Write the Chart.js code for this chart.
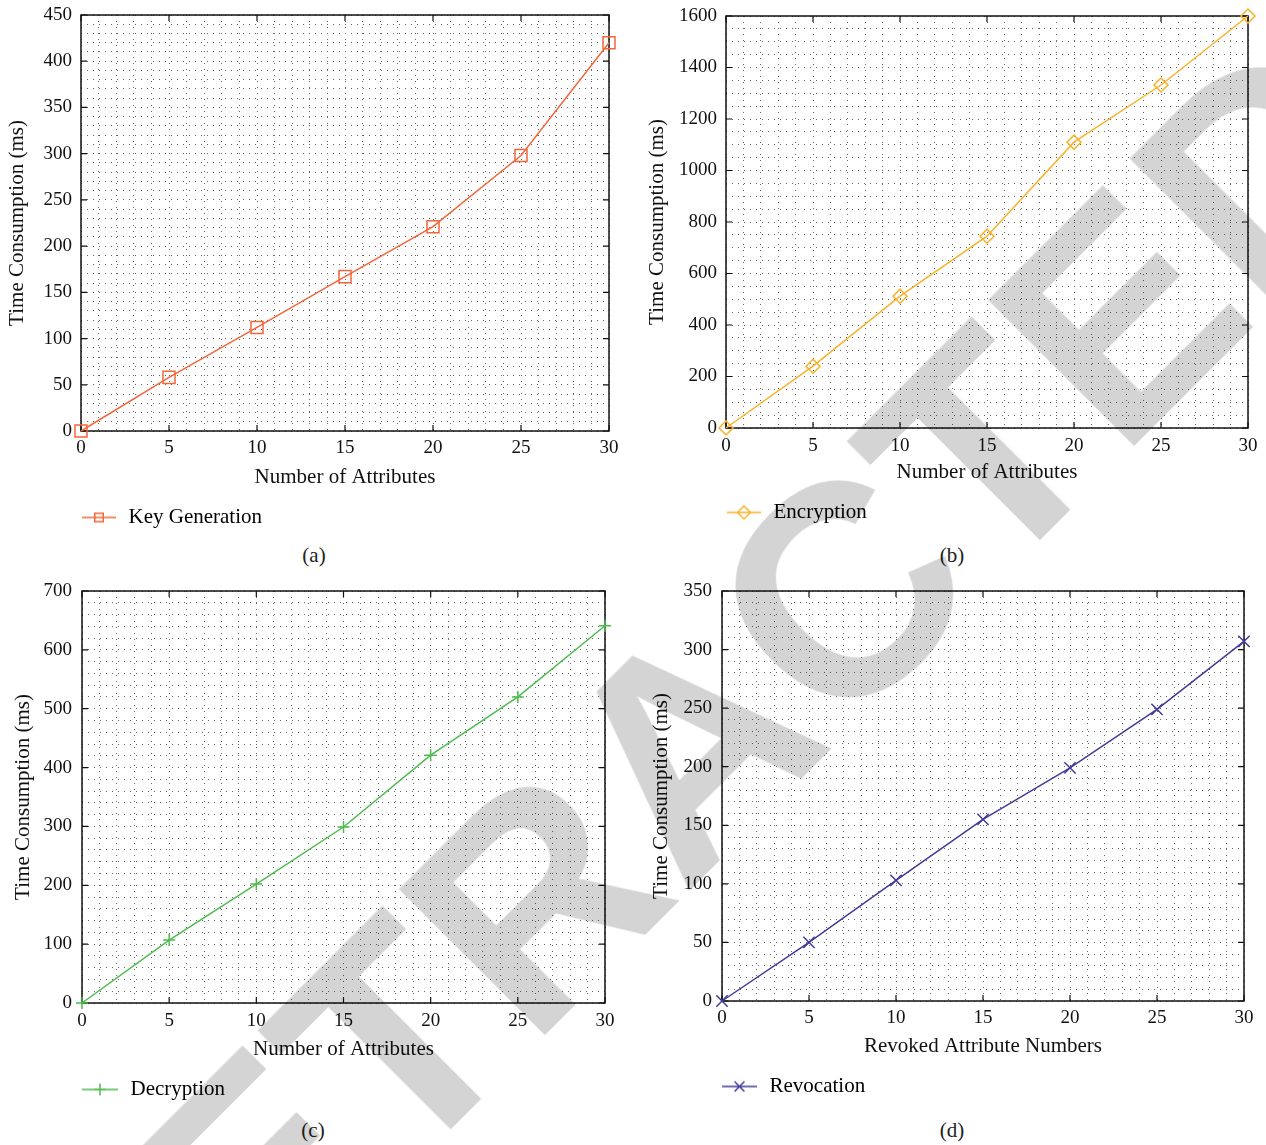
<!DOCTYPE html>
<html>
<head>
<meta charset="utf-8">
<script src="https://cdn.jsdelivr.net/npm/chart.js@4"></script>
<style>
  body { margin: 0; background: #fff; width: 1266px; height: 1145px; position: relative; overflow: hidden; font-family: "Liberation Serif", serif; }
  canvas { position: absolute; }
  .cap { position: absolute; font-size: 21px; color: #222; transform: translate(-50%, -50%); }
  #wm { position: absolute; left: 687px; top: 746px; transform: translate(-50%, -50%) rotate(-45deg);
        font: bold 300px "Liberation Sans", sans-serif; color: #d4d4d4; white-space: nowrap;
        mix-blend-mode: multiply; pointer-events: none; line-height: 1; }
</style>
</head>
<body>
<canvas id="chartA" width="633" height="538" style="left:0;top:0"></canvas>
<canvas id="chartB" width="633" height="533" style="left:633px;top:0"></canvas>
<canvas id="chartC" width="633" height="538" style="left:0;top:572px"></canvas>
<canvas id="chartD" width="633" height="535" style="left:633px;top:572px"></canvas>
<div class="cap" style="left:314px;top:555px">(a)</div>
<div class="cap" style="left:952px;top:555px">(b)</div>
<div class="cap" style="left:313px;top:1130px">(c)</div>
<div class="cap" style="left:952px;top:1130px">(d)</div>
<div id="wm">RETRACTED</div>
<script>
// values
const attributes = [0, 5, 10, 15, 20, 25, 30];
const revokedNumbers = [0, 5, 10, 15, 20, 25, 30];
const keyGeneration = [0, 58, 112, 167, 221, 298, 420];
const encryption = [0, 240, 512, 745, 1110, 1332, 1600];
const decryption = [0, 107, 202, 299, 421, 520, 641];
const revocation = [0, 50, 103, 155, 199, 249, 307];

// tick labels
const xTicks = [0, 5, 10, 15, 20, 25, 30];
const yTicksA = [0, 50, 100, 150, 200, 250, 300, 350, 400, 450];
const yTicksB = [0, 200, 400, 600, 800, 1000, 1200, 1400, 1600];
const yTicksC = [0, 100, 200, 300, 400, 500, 600, 700];
const yTicksD = [0, 50, 100, 150, 200, 250, 300, 350];

Chart.defaults.font.family = '"Liberation Serif", "DejaVu Serif", serif';
Chart.defaults.color = '#111';

const INK = '#111';

// box around the plot with inward ticks, like the original
const frame = {
  id: 'frame',
  beforeDatasetsDraw(chart, args, opts) {
    const { ctx, chartArea: a, scales: { x, y } } = chart;
    ctx.save();
    ctx.strokeStyle = INK;
    ctx.lineWidth = 1.5;
    ctx.strokeRect(a.left, a.top, a.width, a.height);
    ctx.lineWidth = 1.2;
    ctx.beginPath();
    opts.xMajor.forEach(v => {
      const px = x.getPixelForValue(v);
      ctx.moveTo(px, a.bottom); ctx.lineTo(px, a.bottom - 6);
      ctx.moveTo(px, a.top); ctx.lineTo(px, a.top + 6);
    });
    opts.yMajor.forEach(v => {
      const py = y.getPixelForValue(v);
      ctx.moveTo(a.left, py); ctx.lineTo(a.left + 6, py);
      ctx.moveTo(a.right, py); ctx.lineTo(a.right - 6, py);
    });
    ctx.stroke();
    ctx.restore();
  }
};

function legendIcon(color, style, radius, w, x1, x2) {
  const c = document.createElement('canvas');
  c.width = w; c.height = 22;
  const ctx = c.getContext('2d');
  ctx.strokeStyle = color;
  ctx.lineWidth = 1.5;
  ctx.beginPath(); ctx.moveTo(x1, 11); ctx.lineTo(x2, 11); ctx.stroke();
  ctx.fillStyle = 'rgba(0,0,0,0)';
  Chart.helpers.drawPoint(ctx, { pointStyle: style, radius: radius, rotation: 0, borderWidth: 1.5 }, (x1 + x2) / 2, 11);
  return c;
}

function makeChart(id, s) {
  const pts = s.xs.map((x, i) => ({ x: x, y: s.ys[i] }));
  const icon = legendIcon(s.color, s.style, s.legendRadius, s.boxW, s.line[0], s.line[1]);
  new Chart(document.getElementById(id), {
    type: 'line',
    data: {
      datasets: [{
        label: s.label,
        data: pts,
        borderColor: s.color,
        borderWidth: 1.5,
        tension: 0,
        clip: false,
        pointStyle: s.style,
        pointRadius: s.radius,
        pointBackgroundColor: 'rgba(0,0,0,0)',
        pointBorderColor: s.color,
        pointBorderWidth: 1.5
      }]
    },
    options: {
      responsive: false,
      animation: false,
      layout: { padding: { top: s.padTop, right: s.padRight, left: 0, bottom: 0 } },
      scales: {
        x: {
          type: 'linear', min: 0, max: 30,
          afterFit: sc => { sc.height = s.xH; sc.paddingLeft = 0; sc.paddingRight = 0; },
          ticks: {
            stepSize: 1, autoSkip: false, maxRotation: 0, padding: s.xTickPad,
            font: { size: 19 },
            callback: v => xTicks.includes(v) ? String(v) : ''
          },
          grid: { color: '#666', lineWidth: 1, drawTicks: false },
          border: { display: false, dash: [1, 5] },
          title: { display: true, text: s.xTitle, font: { size: 21 }, padding: { top: 0, bottom: 7 } }
        },
        y: {
          min: 0, max: s.yMax,
          afterFit: sc => { sc.width = s.yW; sc.paddingTop = 0; sc.paddingBottom = 0; },
          ticks: {
            stepSize: s.yStep, autoSkip: false, padding: s.yTickPad,
            font: { size: 19 },
            callback: v => s.yTicks.includes(v) ? String(v) : ''
          },
          grid: { color: '#666', lineWidth: 1, drawTicks: false },
          border: { display: false, dash: [1, 5] },
          title: { display: true, text: 'Time Consumption (ms)', font: { size: 21 }, padding: { top: s.yTitlePad, bottom: 0 } }
        }
      },
      plugins: {
        frame: { xMajor: xTicks, yMajor: s.yTicks },
        tooltip: { enabled: false },
        legend: {
          position: 'bottom',
          align: 'start',
          labels: {
            usePointStyle: true,
            pointStyleWidth: s.boxW,
            padding: 10,
            font: { size: 21 },
            color: INK,
            generateLabels: () => [{
              text: s.label, pointStyle: icon, fillStyle: 'rgba(0,0,0,0)',
              strokeStyle: 'rgba(0,0,0,0)', lineWidth: 0, hidden: false, datasetIndex: 0
            }]
          }
        }
      }
    },
    plugins: [frame]
  });
}

makeChart('chartA', {
  xs: attributes, ys: keyGeneration, label: 'Key Generation', color: '#f2673a',
  style: 'rect', radius: 8.5, legendRadius: 6,
  yMax: 450, yStep: 10, yTicks: yTicksA, xTitle: 'Number of Attributes',
  padTop: 15, padRight: 24, yW: 81, xH: 66, xTickPad: 6, yTickPad: 9, yTitlePad: 5,
  boxW: 108, line: [72, 106]
});

makeChart('chartB', {
  xs: attributes, ys: encryption, label: 'Encryption', color: '#f8b22a',
  style: 'rectRot', radius: 7, legendRadius: 6.5,
  yMax: 1600, yStep: 50, yTicks: yTicksB, xTitle: 'Number of Attributes',
  padTop: 16, padRight: 18, yW: 93, xH: 64, xTickPad: 7, yTickPad: 9, yTitlePad: 12,
  boxW: 120, line: [84, 118]
});

makeChart('chartC', {
  xs: attributes, ys: decryption, label: 'Decryption', color: '#4dbb4f',
  style: 'cross', radius: 6, legendRadius: 6,
  yMax: 700, yStep: 20, yTicks: yTicksC, xTitle: 'Number of Attributes',
  padTop: 19, padRight: 28, yW: 82, xH: 66, xTickPad: 7, yTickPad: 10, yTitlePad: 11,
  boxW: 110, line: [72, 108]
});

makeChart('chartD', {
  xs: revokedNumbers, ys: revocation, label: 'Revocation', color: '#3f3b98',
  style: 'crossRot', radius: 8, legendRadius: 7,
  yMax: 350, yStep: 10, yTicks: yTicksD, xTitle: 'Revoked Attribute Numbers',
  padTop: 19, padRight: 22, yW: 89, xH: 65, xTickPad: 6, yTickPad: 10, yTitlePad: 16,
  boxW: 116, line: [79, 114]
});
</script>
</body>
</html>
